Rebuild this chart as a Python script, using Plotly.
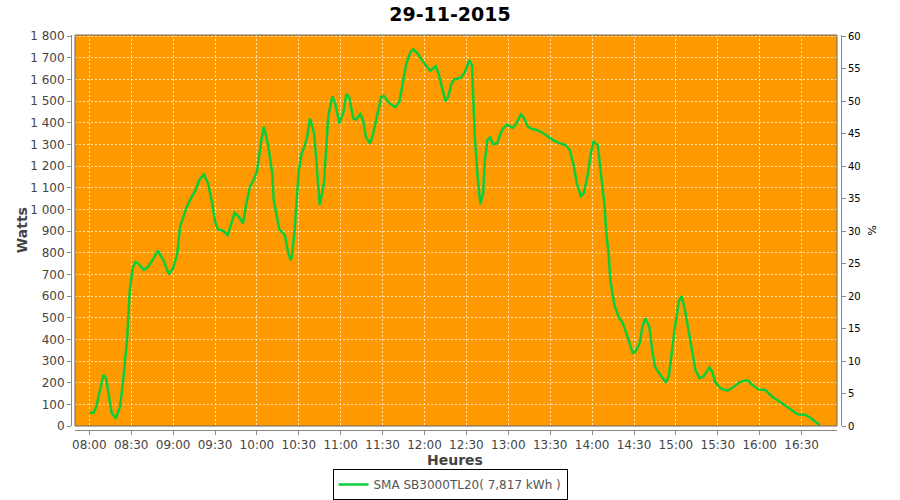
import plotly.graph_objects as go

# ---- data ----
times = ["08:00","08:03","08:05","08:08","08:10","08:12","08:14","08:16","08:19","08:22",
         "08:24","08:27","08:29","08:31","08:33","08:35","08:39","08:42","08:46","08:49",
         "08:53","08:57","09:00","09:03","09:05","09:09","09:12","09:16","09:19","09:22",
         "09:25","09:28","09:30","09:32","09:36","09:39","09:41","09:44","09:47","09:50",
         "09:52","09:55","09:57","10:00","10:03","10:05","10:08","10:11","10:12","10:15",
         "10:16","10:20","10:22","10:24","10:25","10:27","10:30","10:32","10:34","10:36",
         "10:38","10:41","10:43","10:45","10:48","10:51","10:54","10:56","10:59","11:02",
         "11:04","11:06","11:09","11:11","11:14","11:16","11:18","11:21","11:23","11:27",
         "11:29","11:31","11:35","11:39","11:42","11:44","11:47","11:50","11:52","11:55",
         "11:59","12:04","12:06","12:08","12:10","12:13","12:15","12:17","12:19","12:21",
         "12:26","12:29","12:32","12:34","12:35","12:36","12:38","12:40","12:42","12:43",
         "12:45","12:47","12:49","12:52","12:54","12:56","12:59","13:03","13:05","13:09",
         "13:11","13:14","13:17","13:21","13:26","13:32","13:36","13:41","13:44","13:47",
         "13:49","13:52","13:54","13:57","13:59","14:01","14:04","14:06","14:09","14:10",
         "14:12","14:13","14:16","14:19","14:22","14:25","14:29","14:31","14:34","14:36",
         "14:38","14:41","14:43","14:45","14:48","14:53","14:55","14:59","15:02","15:04",
         "15:06","15:09","15:12","15:14","15:17","15:20","15:24","15:26","15:28","15:32",
         "15:37","15:41","15:46","15:51","15:54","15:59","16:04","16:09","16:16","16:23",
         "16:27","16:33","16:37","16:43"]
watts = [61,61,89,181,235,221,135,60,35,89,
         198,397,628,728,758,750,720,735,774,809,
         766,700,728,797,920,997,1043,1089,1138,1161,
         1120,1028,943,908,900,881,920,984,966,935,
         1012,1104,1127,1174,1312,1381,1297,1166,1043,935,
         909,881,812,766,781,904,1181,1258,1289,1335,
         1420,1351,1181,1020,1120,1427,1523,1489,1397,1450,
         1532,1520,1420,1415,1440,1412,1335,1305,1343,1458,
         1520,1523,1489,1471,1497,1566,1674,1727,1738,1720,
         1681,1640,1650,1661,1627,1543,1500,1520,1574,1600,
         1607,1635,1689,1666,1535,1335,1150,1024,1074,1212,
         1320,1332,1301,1305,1343,1371,1392,1377,1389,1438,
         1425,1381,1371,1366,1347,1320,1307,1297,1274,1197,
         1120,1061,1074,1166,1258,1312,1297,1181,1012,904,
         781,674,558,504,474,420,338,343,382,458,
         497,458,351,274,243,200,235,443,574,600,
         551,443,320,258,220,231,271,251,204,174,
         163,179,204,212,194,169,166,135,105,74,
         54,51,35,5]

day = "2015-11-29"
title_text = "29-11-2015"
series_name = "SMA SB3000TL20( 7,817 kWh )"
x_title = "Heures"
y_title = "Watts"
y2_title = "%"
x_tick_labels = ["08:00","08:30","09:00","09:30","10:00","10:30","11:00","11:30",
                 "12:00","12:30","13:00","13:30","14:00","14:30","15:00","15:30",
                 "16:00","16:30"]
watt_ticks = list(range(0, 1801, 100))
pct_ticks = list(range(0, 61, 5))

xs = [f"{day} {t}" for t in times]

fig = go.Figure()
fig.add_trace(go.Scatter(
    x=xs, y=watts, mode="lines", name=series_name,
    line=dict(color="#0ACF3A", width=2.5),
))
fig.add_trace(go.Scatter(
    x=[xs[0]], y=[None], yaxis="y2", mode="lines", showlegend=False,
    hoverinfo="skip",
))

grid = "rgba(255,255,255,0.7)"
FONT = "DejaVu Sans"
fig.update_layout(
    width=900, height=500,
    margin=dict(l=71, r=59, t=35, b=70, autoexpand=False),
    paper_bgcolor="white",
    plot_bgcolor="#FF9900",
    font=dict(family=FONT, size=12, color="#444"),
    title=dict(text=f"<b>{title_text}</b>", x=0.5, xref="container", xanchor="center",
               y=0.972, yref="container", yanchor="middle",
               font=dict(family=FONT, size=19, color="black")),
    showlegend=True,
    legend=dict(x=0.5, xref="container", xanchor="center",
                y=0.0, yref="container", yanchor="bottom",
                orientation="h", bordercolor="black", borderwidth=1,
                bgcolor="white", font=dict(family=FONT, size=12, color="#555"),
                itemwidth=30, tracegroupgap=0),
    xaxis=dict(
        type="date", domain=[0.0052, 0.9948], anchor="free", position=0,
        range=[f"{day} 07:49:45", f"{day} 16:55:20"],
        tickvals=[f"{day} {t}" for t in x_tick_labels], ticktext=x_tick_labels,
        showgrid=True, gridcolor=grid, griddash="2px,2px", gridwidth=1,
        showline=True, linecolor="#888", linewidth=1,
        ticks="outside", ticklen=4, tickcolor="#888",
        tickfont=dict(size=12, color="#444"), automargin=False,
        zeroline=False,
    ),
    yaxis=dict(
        domain=[0.0101, 1], anchor="free", position=0,
        range=[0, 1805],
        tickvals=watt_ticks,
        ticktext=[f"{v:,}".replace(",", " ") for v in watt_ticks],
        showgrid=True, gridcolor=grid, griddash="2px,2px", gridwidth=1,
        showline=True, linecolor="#888", linewidth=1,
        ticks="outside", ticklen=4, tickcolor="#888",
        tickfont=dict(size=12, color="#444"), automargin=False,
        zeroline=False,
    ),
    yaxis2=dict(
        overlaying="y", side="right", anchor="free", position=1,
        range=[0, 60.17], tickvals=pct_ticks,
        showgrid=False, zeroline=False,
        showline=True, linecolor="#888", linewidth=1,
        ticks="outside", ticklen=4, tickcolor="#888",
        tickfont=dict(size=10, color="black"), automargin=False,
    ),
    annotations=[
        dict(text=f"<b>{y_title}</b>", xref="paper", yref="paper", x=-0.0636, y=0.506,
             textangle=-90, showarrow=False, xanchor="center", yanchor="middle",
             font=dict(size=14, color="#444")),
        dict(text=f"<b>{x_title}</b>", xref="paper", yref="paper", x=0.4987, y=-0.076,
             showarrow=False, xanchor="center", yanchor="middle",
             font=dict(size=14, color="#444")),
        dict(text=y2_title, xref="paper", yref="paper", x=1.040, y=0.506,
             textangle=90, showarrow=False, xanchor="center", yanchor="middle",
             font=dict(size=11, color="black")),
    ],
    shapes=[dict(type="rect", xref="x domain", yref="y domain",
                 x0=0, x1=1, y0=0, y1=1, line=dict(color="#666", width=1),
                 fillcolor="rgba(0,0,0,0)", layer="above")],
)

fig.write_html("out.html", config={"displayModeBar": False},
               post_script="document.body.style.margin='0';document.body.style.overflow='hidden';")
